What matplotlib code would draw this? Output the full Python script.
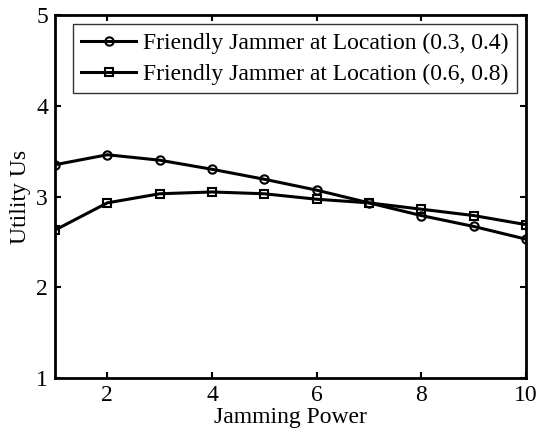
import matplotlib
matplotlib.use("Agg")
import matplotlib.pyplot as plt

power = [1, 2, 3, 4, 5, 6, 7, 8, 9, 10]
util_loc1 = [3.35, 3.46, 3.40, 3.30, 3.19, 3.07, 2.93, 2.79, 2.67, 2.53]
util_loc2 = [2.63, 2.93, 3.03, 3.05, 3.03, 2.97, 2.93, 2.86, 2.79, 2.69]
label1 = "Friendly Jammer at Location (0.3, 0.4)"
label2 = "Friendly Jammer at Location (0.6, 0.8)"
xticks = [2, 4, 6, 8, 10]
yticks = [1, 2, 3, 4, 5]

plt.rcParams['font.family'] = ['Liberation Serif', 'DejaVu Serif']
fig = plt.figure(figsize=(5.36, 4.33), dpi=100)
ax = fig.add_axes([55/536, 1 - 378/433, (526-55)/536, (378-15)/433])

ax.plot(power, util_loc1, color='black', lw=2.2, marker='o', ms=6, mfc='none', mew=1.5, label=label1)
ax.plot(power, util_loc2, color='black', lw=2.2, marker='s', ms=6, mfc='none', mew=1.5, label=label2)

ax.set_xlim(1, 10)
ax.set_ylim(1, 5)
ax.set_xticks(xticks)
ax.set_yticks(yticks)
ax.tick_params(direction='in', top=True, right=True, labelsize=17, width=1.5, length=4, pad=5)
for s in ax.spines.values():
    s.set_linewidth(2)
ax.set_xlabel("Jamming Power", fontsize=17, labelpad=1)
ax.set_ylabel("Utility Us", fontsize=17, labelpad=4)
leg = ax.legend(loc='upper right', fontsize=17, frameon=True, fancybox=False, edgecolor='black',
                handlelength=2.3, borderpad=0.35, labelspacing=0.4, handletextpad=0.3, borderaxespad=0.4)
leg.get_frame().set_linewidth(1)

fig.savefig("out.png", dpi=100)
